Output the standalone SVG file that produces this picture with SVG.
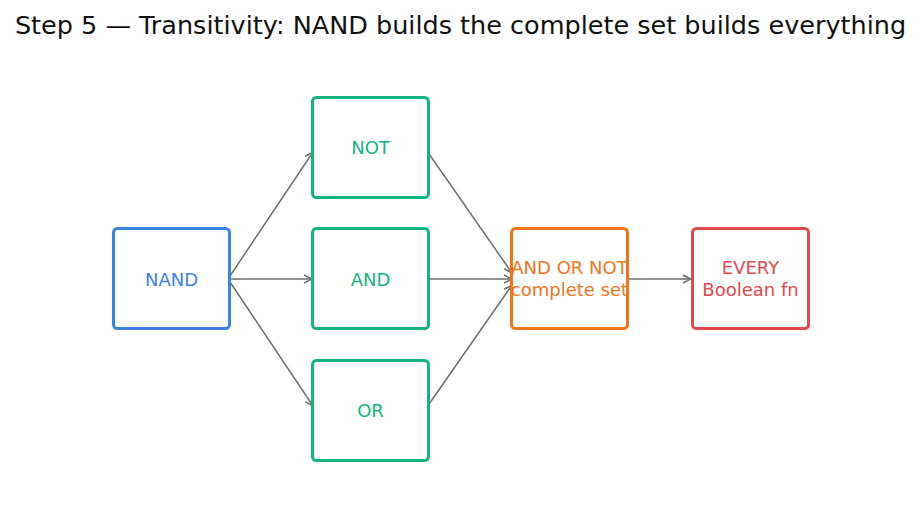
<svg xmlns="http://www.w3.org/2000/svg" width="921" height="512" viewBox="0 0 921 512">
<defs>
<marker id="arr" viewBox="0 0 10 10" refX="9" refY="5" markerWidth="10" markerHeight="10" markerUnits="userSpaceOnUse" orient="auto">
<path d="M1,1 L9,5 L1,9" fill="none" stroke="#6e6e6e" stroke-width="1.5"/>
</marker>
<style>
.box{fill:#fff;stroke-width:3}
.lbl{font-family:"DejaVu Sans",sans-serif;font-size:18px;text-anchor:middle}
.edge{stroke:#6e6e6e;stroke-width:1.5;fill:none;marker-end:url(#arr)}
.blue{stroke:#3b82e6}.tblue{fill:#3b82e6}
.green{stroke:#13b57f}.tgreen{fill:#13b57f}
.orange{stroke:#f0761a}.torange{fill:#f0761a}
.red{stroke:#e5484b}.tred{fill:#e5484b}
</style>
</defs>
<rect width="921" height="512" fill="#fff"/>
<text x="460.5" y="34" font-family="DejaVu Sans, sans-serif" font-size="25.5" text-anchor="middle" fill="#111">Step 5 — Transitivity: NAND builds the complete set builds everything</text>
<g id="edges">
<line class="edge" x1="228" y1="279" x2="313" y2="152"/>
<line class="edge" x1="228" y1="279" x2="312" y2="279"/>
<line class="edge" x1="228" y1="279" x2="313" y2="406"/>
<line class="edge" x1="427" y1="151" x2="512" y2="273"/>
<line class="edge" x1="429" y1="279" x2="512" y2="279"/>
<line class="edge" x1="427" y1="407" x2="512" y2="285"/>
<line class="edge" x1="628" y1="279" x2="691" y2="279"/>
</g>
<g id="nand"><rect class="box blue" x="113.5" y="228.5" width="116" height="100" rx="4"/><text class="lbl tblue" x="171.5" y="285.5">NAND</text></g>
<g id="not"><rect class="box green" x="312.5" y="97.5" width="116" height="100" rx="4"/><text class="lbl tgreen" x="370.5" y="154">NOT</text></g>
<g id="and"><rect class="box green" x="312.5" y="228.5" width="116" height="100" rx="4"/><text class="lbl tgreen" x="370.5" y="285.5">AND</text></g>
<g id="or"><rect class="box green" x="312.5" y="360.5" width="116" height="100" rx="4"/><text class="lbl tgreen" x="370.5" y="417">OR</text></g>
<g id="complete"><rect class="box orange" x="511.5" y="228.5" width="116" height="100" rx="4"/><text class="lbl torange" x="569.5" y="273.5">AND OR NOT</text><text class="lbl torange" x="569.5" y="295.5">complete set</text></g>
<g id="every"><rect class="box red" x="692.5" y="228.5" width="116" height="100" rx="4"/><text class="lbl tred" x="750.5" y="273.5">EVERY</text><text class="lbl tred" x="750.5" y="295.5">Boolean fn</text></g>
</svg>
